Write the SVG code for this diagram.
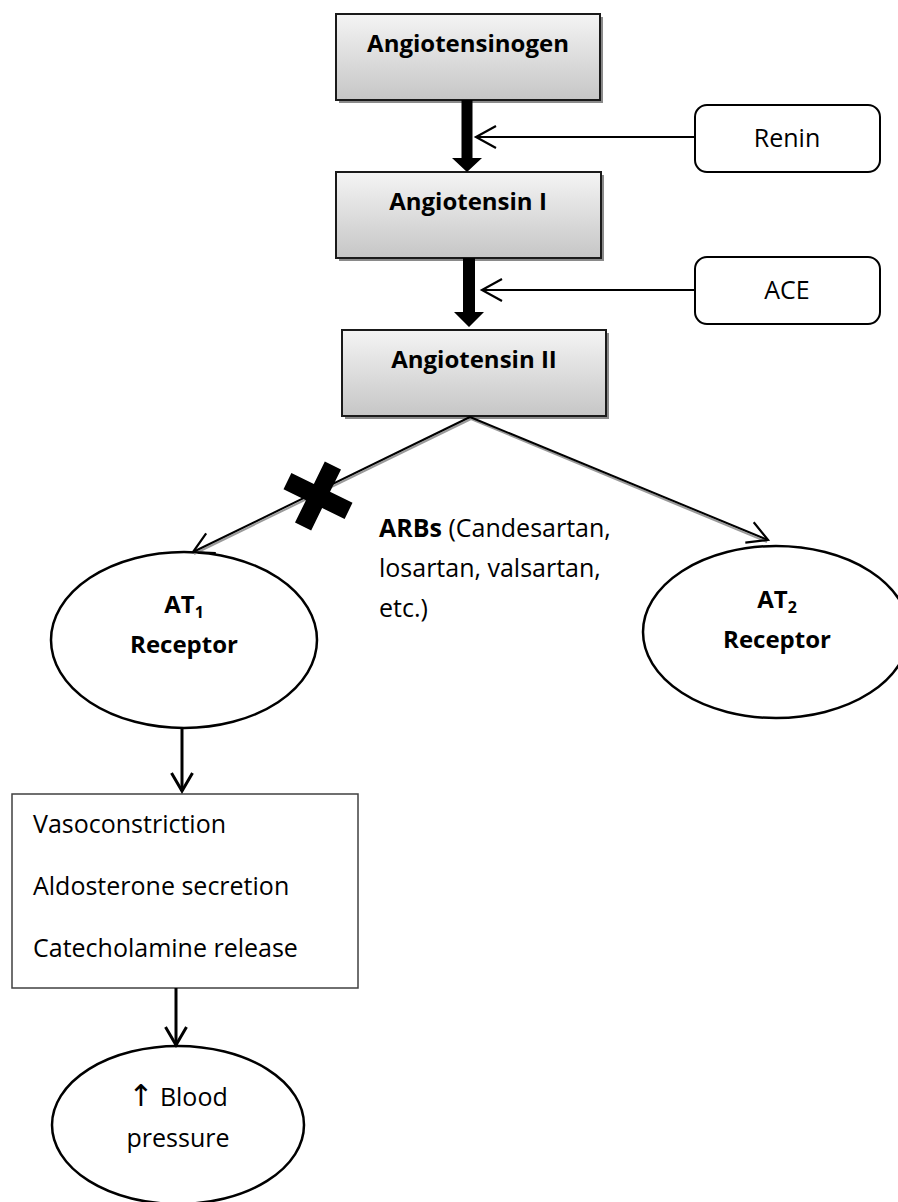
<svg xmlns="http://www.w3.org/2000/svg" width="898" height="1202" viewBox="0 0 898 1202">
  <defs>
    <linearGradient id="boxFill" x1="0" y1="0" x2="0" y2="1">
      <stop offset="0" stop-color="#f4f4f4"/>
      <stop offset="1" stop-color="#c6c6c6"/>
    </linearGradient>
    <!-- open chevron arrowhead for thin connectors -->
    <marker id="chev" markerUnits="userSpaceOnUse" viewBox="-24 -14 28 28" markerWidth="28" markerHeight="28" refX="0" refY="0" orient="auto" overflow="visible">
      <path d="M -20,-11 L 0,0 L -20,11" fill="none" stroke="#000" stroke-width="2.2"/>
    </marker>
    <marker id="chevBold" markerUnits="userSpaceOnUse" viewBox="-24 -14 28 28" markerWidth="28" markerHeight="28" refX="0" refY="0" orient="auto" overflow="visible">
      <path d="M -18,-10.5 L 0,0 L -18,10.5" fill="none" stroke="#000" stroke-width="3"/>
    </marker>
    <style>
      .step rect.shadow { fill: #8a8a8a; }
      .step rect.face { fill: url(#boxFill); stroke: #1a1a1a; stroke-width: 2; }
      .title { font-family: "Open Sans", "Liberation Sans", sans-serif; font-weight: bold; font-size: 24px; fill: #000; text-anchor: middle; }
      .label { font-family: "Open Sans", "Liberation Sans", sans-serif; font-size: 25px; fill: #000; }
      .mid { text-anchor: middle; }
      .sym { font-family: "DejaVu Sans", sans-serif; font-size: 30px; fill: #000; }
      .enzyme rect { fill: #fff; stroke: #000; stroke-width: 2; }
      .oval ellipse { fill: #fff; stroke: #000; stroke-width: 2.5; }
      .thin { stroke: #000; stroke-width: 2; fill: none; }
      .shade { stroke: #9a9a9a; stroke-width: 2; fill: none; }
      .down { stroke: #000; stroke-width: 3; fill: none; }
    </style>
  </defs>

  <rect width="898" height="1202" fill="#fff"/>

  <!-- pathway steps -->
  <g id="angiotensinogen" class="step">
    <rect class="shadow" x="339" y="17" width="264" height="86"/>
    <rect class="face" x="336" y="14" width="264" height="86"/>
    <text class="title" x="468" y="52">Angiotensinogen</text>
  </g>
  <g id="angiotensin-1" class="step">
    <rect class="shadow" x="339" y="175" width="265" height="86"/>
    <rect class="face" x="336" y="172" width="265" height="86"/>
    <text class="title" x="468" y="210">Angiotensin I</text>
  </g>
  <g id="angiotensin-2" class="step">
    <rect class="shadow" x="345" y="333" width="264" height="86"/>
    <rect class="face" x="342" y="330" width="264" height="86"/>
    <text class="title" x="474" y="368">Angiotensin II</text>
  </g>

  <!-- enzymes -->
  <g id="renin" class="enzyme">
    <rect x="695" y="105" width="185" height="67" rx="12"/>
    <text class="label mid" x="787" y="147">Renin</text>
  </g>
  <g id="ace" class="enzyme">
    <rect x="695" y="257" width="185" height="67" rx="12"/>
    <text class="label mid" x="787" y="299">ACE</text>
  </g>

  <!-- receptors -->
  <g id="at1-receptor" class="oval">
    <ellipse cx="184" cy="640" rx="133" ry="88"/>
    <text class="title" x="184" y="613">AT<tspan font-size="16" dy="5">1</tspan></text>
    <text class="title" x="184" y="653">Receptor</text>
  </g>
  <g id="at2-receptor" class="oval">
    <ellipse cx="776" cy="632" rx="133" ry="86"/>
    <text class="title" x="777" y="608">AT<tspan font-size="16" dy="5">2</tspan></text>
    <text class="title" x="777" y="648">Receptor</text>
  </g>

  <!-- downstream effects -->
  <g id="effects">
    <rect x="12" y="794" width="346" height="194" fill="#fff" stroke="#404040" stroke-width="1.5"/>
    <text class="label" x="33" y="833">Vasoconstriction</text>
    <text class="label" x="33" y="895">Aldosterone secretion</text>
    <text class="label" x="33" y="957">Catecholamine release</text>
  </g>

  <g id="blood-pressure" class="oval">
    <ellipse cx="178" cy="1125" rx="126" ry="79"/>
    <text class="label mid" x="178" y="1106"><tspan class="sym">↑</tspan> Blood</text>
    <text class="label mid" x="178" y="1147">pressure</text>
  </g>

  <!-- blocker annotation -->
  <g id="arbs">
    <text class="label" x="379" y="537"><tspan font-weight="bold">ARBs</tspan> (Candesartan,</text>
    <text class="label" x="379" y="577">losartan, valsartan,</text>
    <text class="label" x="379" y="617">etc.)</text>
  </g>

  <!-- connectors -->
  <g id="connectors">
    <!-- conversion arrows -->
    <path d="M 461.5,100 H 472.5 V 158 H 482 L 467,172 L 452,158 H 461.5 Z" fill="#000"/>
    <path d="M 463,258 H 475 V 312 H 484 L 469,327 L 454,312 H 463 Z" fill="#000"/>
    <!-- enzyme inputs -->
    <line class="thin" x1="695" y1="137" x2="476" y2="137" marker-end="url(#chev)"/>
    <line class="thin" x1="695" y1="290" x2="482" y2="290" marker-end="url(#chev)"/>
    <!-- receptor branches with drop shade -->
    <line class="shade" x1="471" y1="419" x2="194" y2="554"/>
    <line class="shade" x1="471" y1="419" x2="767" y2="542"/>
    <line class="thin" x1="470" y1="417" x2="193" y2="552" marker-end="url(#chev)"/>
    <line class="thin" x1="470" y1="417" x2="768" y2="540" marker-end="url(#chev)"/>
    <!-- AT1 signalling -->
    <line class="down" x1="182" y1="728" x2="182" y2="791" marker-end="url(#chevBold)"/>
    <line class="down" x1="176" y1="988" x2="176" y2="1045" marker-end="url(#chevBold)"/>
  </g>

  <!-- block mark on the AT1 branch -->
  <g id="block">
    <path d="M -9,-34 H 9 V -9 H 34 V 9 H 9 V 34 H -9 V 9 H -34 V -9 H -9 Z" fill="#000" transform="translate(318,496) rotate(26)"/>
  </g>
</svg>
